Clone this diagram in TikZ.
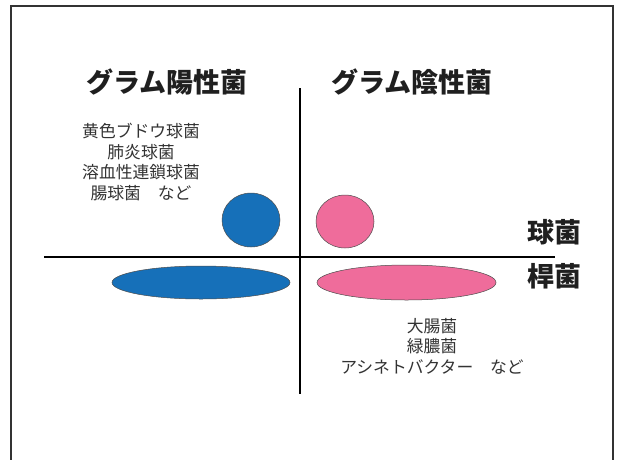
\documentclass[tikz,border=0pt]{standalone}
\usepackage{fontspec}
\newfontfamily\jp{Noto Sans CJK JP}
\begin{document}
\begin{tikzpicture}[x=1pt,y=-1pt,
  title/.style={font=\jp\bfseries\fontsize{27}{31}\selectfont, text=black!88, inner sep=0pt},
  list/.style={font=\jp\fontsize{16.8}{20.5}\selectfont, text=black!80, align=center, inner sep=0pt},
  axis/.style={line width=2.8pt, black},
  blob/.style={draw=black!70, line width=0.5pt}]
\definecolor{gpblue}{HTML}{1670B9}
\definecolor{gnpink}{HTML}{EF6C9B}
\useasboundingbox (0,0) rectangle (621,459);
\fill[white] (0,0) rectangle (621,459);
\draw[black!80, line width=2pt] (11,462) -- (11,6) -- (613,6) -- (613,462);
% axes
\coordinate (vtop) at (300,88);
\coordinate (vbot) at (300,394);
\coordinate (hl) at (44,257);
\coordinate (hr) at (555,257);
\draw[axis] (vtop) -- (vbot);
\draw[axis] (hl) -- (hr);
% titles
\node[title] (gp) at (167,82) {グラム陽性菌};
\node[title] (gn) at (412,82) {グラム陰性菌};
\node[title] (coccus) at (554,232) {球菌};
\node[title] (bacillus) at (554,276) {桿菌};
% lists
\node[list] (gplist) at (141,162) {黄色ブドウ球菌\\肺炎球菌\\溶血性連鎖球菌\\腸球菌　など};
\node[list] (gnlist) at (432,346) {大腸菌\\緑膿菌\\アシネトバクター　など};
% shapes
\fill[gpblue, blob] (251,220) ellipse [x radius=29, y radius=27];
\fill[gpblue, blob] (201,282.5) ellipse [x radius=89, y radius=16.5];
\fill[gnpink, blob] (345,221.5) ellipse [x radius=29, y radius=26.5];
\fill[gnpink, blob] (406.5,282.5) ellipse [x radius=89.5, y radius=17.5];
\end{tikzpicture}
\end{document}
